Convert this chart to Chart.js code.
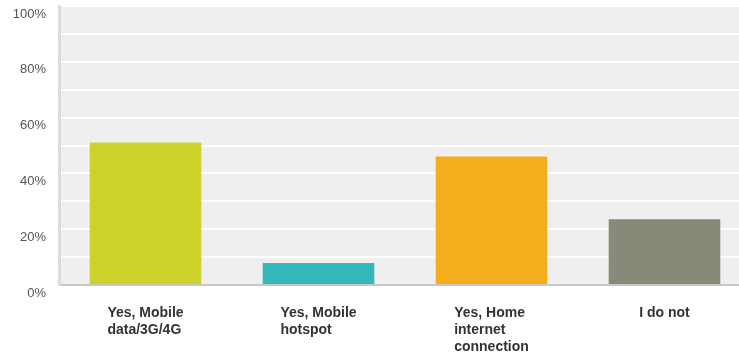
<!DOCTYPE html>
<html>
<head>
<meta charset="utf-8">
<script src="https://cdn.jsdelivr.net/npm/chart.js@4.4.1/dist/chart.umd.min.js"></script>
<style>
  html, body { margin: 0; padding: 0; background: #fff; overflow: hidden; }
  #wrap { width: 751px; height: 360px; }
</style>
</head>
<body>
<div id="wrap"><canvas id="chart" width="751" height="360"></canvas></div>
<script>
const categories = [
  ["Yes, Mobile", "data/3G/4G"],
  ["Yes, Mobile", "hotspot"],
  ["Yes, Home", "internet", "connection"],
  ["I do not"]
];
const shares = [51.1, 7.9, 46.1, 23.6];
const barColors = ["#cdd22a", "#33b8bc", "#f4ae1c", "#878a78"];
const yTicks = [0, 20, 40, 60, 80, 100];

// grey plot background behind the bars
const plotBg = {
  id: "plotBg",
  beforeDraw(chart) {
    const { ctx, chartArea: a } = chart;
    ctx.save();
    ctx.fillStyle = "#efefef";
    ctx.fillRect(a.left, a.top, a.right - a.left, a.bottom - a.top);
    ctx.restore();
  }
};

// category labels: each block centred under its bar, lines left aligned
const xLabels = {
  id: "xLabels",
  afterDraw(chart) {
    const { ctx, chartArea: a } = chart;
    const x = chart.scales.x;
    ctx.save();
    ctx.font = "bold 14px 'Liberation Sans', Arial, sans-serif";
    ctx.fillStyle = "#333";
    ctx.textAlign = "left";
    ctx.textBaseline = "alphabetic";
    categories.forEach((lines, i) => {
      const w = Math.max(...lines.map(l => ctx.measureText(l).width));
      const left = x.getPixelForValue(i) - w / 2;
      lines.forEach((l, j) => ctx.fillText(l, left, a.bottom + 32 + j * 17));
    });
    ctx.restore();
  }
};

new Chart(document.getElementById("chart"), {
  type: "bar",
  data: {
    labels: categories.map(c => c.join(" ")),
    datasets: [{
      data: shares,
      backgroundColor: barColors,
      borderWidth: 0,
      barPercentage: 0.645,
      categoryPercentage: 1
    }]
  },
  options: {
    responsive: false,
    animation: false,
    layout: { padding: { top: 6, left: 0, right: 0, bottom: 0 } },
    plugins: { legend: { display: false }, tooltip: { enabled: false } },
    scales: {
      x: {
        grid: { display: false },
        border: { display: true, color: "#c8c8c8", width: 2 },
        ticks: { display: false },
        afterFit(s) { s.height = 75; s.paddingLeft = 0; s.paddingRight = 0; }
      },
      y: {
        min: 0,
        max: 100,
        ticks: {
          stepSize: 10,
          padding: 13,
          labelOffset: 8,
          color: "#555",
          font: { family: "'Liberation Sans', Arial, sans-serif", size: 13 },
          callback: v => yTicks.includes(v) ? v + "%" : ""
        },
        grid: { color: "#ffffff", lineWidth: 2, drawTicks: false },
        border: { display: true, color: "#dcdcdc", width: 3 },
        afterFit(s) { s.width = 59; s.paddingTop = 0; s.paddingBottom = 0; }
      }
    }
  },
  plugins: [plotBg, xLabels]
});
</script>
</body>
</html>
